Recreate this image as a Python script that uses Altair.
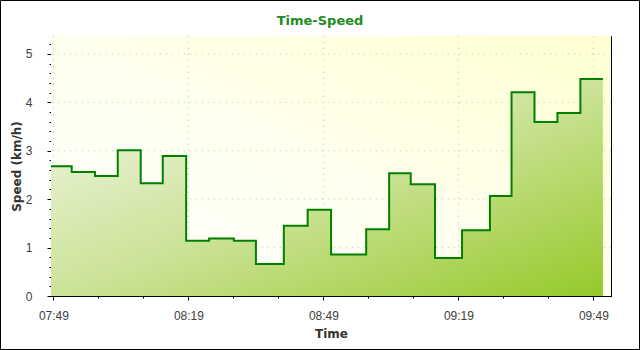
import altair as alt
import pandas as pd

# ---- data ----
times = [
    "07:48:28", "07:53:04", "07:58:14", "08:03:18", "08:08:24", "08:13:18",
    "08:18:30", "08:23:36", "08:29:06", "08:34:00", "08:40:12", "08:45:30",
    "08:50:42", "08:58:30", "09:03:36", "09:08:24", "09:13:48", "09:19:48",
    "09:26:00", "09:30:48", "09:35:54", "09:41:00", "09:46:06", "09:51:06",
]
speeds = [
    2.68, 2.56, 2.48, 3.01, 2.33, 2.89, 1.14, 1.19, 1.14, 0.66, 1.45, 1.78,
    0.855, 1.38, 2.535, 2.31, 0.785, 1.357, 2.066, 4.21, 3.595, 3.78, 4.48, 4.48,
]
major_x = ["07:49", "08:19", "08:49", "09:19", "09:49"]
minor_x = ["07:49", "07:59", "08:09", "08:19", "08:29", "08:39", "08:49",
           "08:59", "09:09", "09:19", "09:29", "09:39", "09:49"]
major_y = [0, 1, 2, 3, 4, 5]
minor_y = [round(i * 0.2, 1) for i in range(27)]
x_start, x_end = "07:48:28", "09:52:54"
y_max = 5.37

DAY = "2024-01-01T"


def dt(s):
    parts = [int(p) for p in s.split(":")]
    while len(parts) < 3:
        parts.append(0)
    return alt.DateTime(year=2024, month=1, date=1,
                        hours=parts[0], minutes=parts[1], seconds=parts[2])


df = pd.DataFrame({"Time": [DAY + t for t in times], "Speed": speeds})
grid_x_df = pd.DataFrame({"Time": [DAY + t + ":00" for t in major_x]})
grid_y_df = pd.DataFrame({"Speed": major_y[1:]})

W, H = 560, 260
x_dom = [dt(x_start), dt(x_end)]
xs = alt.Scale(domain=x_dom, nice=False)
ys = alt.Scale(domain=[0, y_max], nice=False)
major_vals = [dt(t) for t in major_x]
minor_vals = [dt(t) for t in minor_x]

FONT = "Liberation Sans"

# background gradient of the plot area
bg = alt.Chart(alt.Data(values=[{"a": 1}])).mark_rect(
    fill=alt.Gradient(gradient="linear", x1=0, y1=1, x2=1, y2=0,
                      stops=[alt.GradientStop(offset=0, color="#FFFFFF"),
                             alt.GradientStop(offset=0.5, color="#FFFFEE"),
                             alt.GradientStop(offset=1, color="#FFFFD0")])
).encode(x=alt.value(0), x2=alt.value(W), y=alt.value(0), y2=alt.value(H))

grid_v = alt.Chart(grid_x_df).mark_rule(
    color="#C4C4C4", strokeDash=[1, 5], strokeWidth=1
).encode(x=alt.X("Time:T", scale=xs, axis=None))

grid_h = alt.Chart(grid_y_df).mark_rule(
    color="#C4C4C4", strokeDash=[1, 5], strokeWidth=1
).encode(y=alt.Y("Speed:Q", scale=ys, axis=None))

area = alt.Chart(df).mark_area(
    interpolate="step-after",
    color=alt.Gradient(gradient="linear", x1=0, y1=0, x2=1, y2=1,
                       stops=[alt.GradientStop(offset=0, color="#F3F8EA"),
                              alt.GradientStop(offset=0.5, color="#CCE399"),
                              alt.GradientStop(offset=1, color="#96C92A")])
).encode(x=alt.X("Time:T", scale=xs, axis=None),
         y=alt.Y("Speed:Q", scale=ys, axis=None))

line = alt.Chart(df).mark_line(
    interpolate="step-after", color="#008000", strokeWidth=2
).encode(
    x=alt.X("Time:T", scale=xs, title="Time",
            axis=alt.Axis(values=major_vals, format="%H:%M", orient="bottom",
                          grid=False, domain=False, tickSize=4, tickColor="black",
                          labelPadding=10, titlePadding=7,
                          labelFont=FONT, labelFontSize=12, labelColor="#404040",
                          titleFont="DejaVu Sans", titleFontSize=12,
                          titleFontWeight="bold", titleColor="#333333")),
    y=alt.Y("Speed:Q", scale=ys, title="Speed (km/h)",
            axis=alt.Axis(values=major_y, orient="left", grid=False, domain=False,
                          tickSize=4, tickColor="black", labelPadding=15,
                          titlePadding=2,
                          labelFont=FONT, labelFontSize=12, labelColor="#404040",
                          titleFont="DejaVu Sans", titleFontSize=12,
                          titleFontWeight="bold", titleColor="#333333")),
)


def tick_layer(xvals, yvals, orient_x, orient_y, size, offset):
    common = dict(grid=False, domain=False, labels=False, title=None,
                  tickSize=size, tickColor="black", offset=offset)
    return alt.Chart(df).mark_point(opacity=0).encode(
        x=alt.X("Time:T", scale=xs,
                axis=alt.Axis(values=xvals, orient=orient_x, **common)),
        y=alt.Y("Speed:Q", scale=ys,
                axis=alt.Axis(values=yvals, orient=orient_y, **common)),
    )


layers = [
    bg, grid_v, grid_h, area, line,
    tick_layer(minor_vals, minor_y, "bottom", "left", 2, 0),
    tick_layer(major_vals, major_y, "bottom", "left", 4, -4),
    tick_layer(minor_vals, minor_y, "bottom", "left", 2, -2),
    tick_layer(major_vals, major_y, "top", "right", 4, -4),
    tick_layer(minor_vals, minor_y, "top", "right", 2, -2),
]

border = alt.Chart(alt.Data(values=[{"a": 1}])).mark_rect(
    fill=None, stroke="black", strokeWidth=1
).encode(x=alt.value(-50.5), x2=alt.value(588.5),
         y=alt.value(-35.5), y2=alt.value(313.5))
layers.append(border)

chart = alt.layer(*layers).resolve_axis(x="independent", y="independent").properties(
    width=W, height=H,
    autosize=alt.AutoSizeParams(type="none"),
    padding={"left": 51, "top": 36, "right": 29, "bottom": 54},
    background="white",
    title=alt.Title("Time-Speed", font="DejaVu Sans", fontSize=13,
                    fontWeight="bold", color="#228B22", anchor="middle",
                    dx=-11, dy=38, offset=0, baseline="alphabetic"),
).configure_view(stroke="black", strokeWidth=1)

chart.save("out.html", embed_options={"renderer": "svg", "actions": False})
